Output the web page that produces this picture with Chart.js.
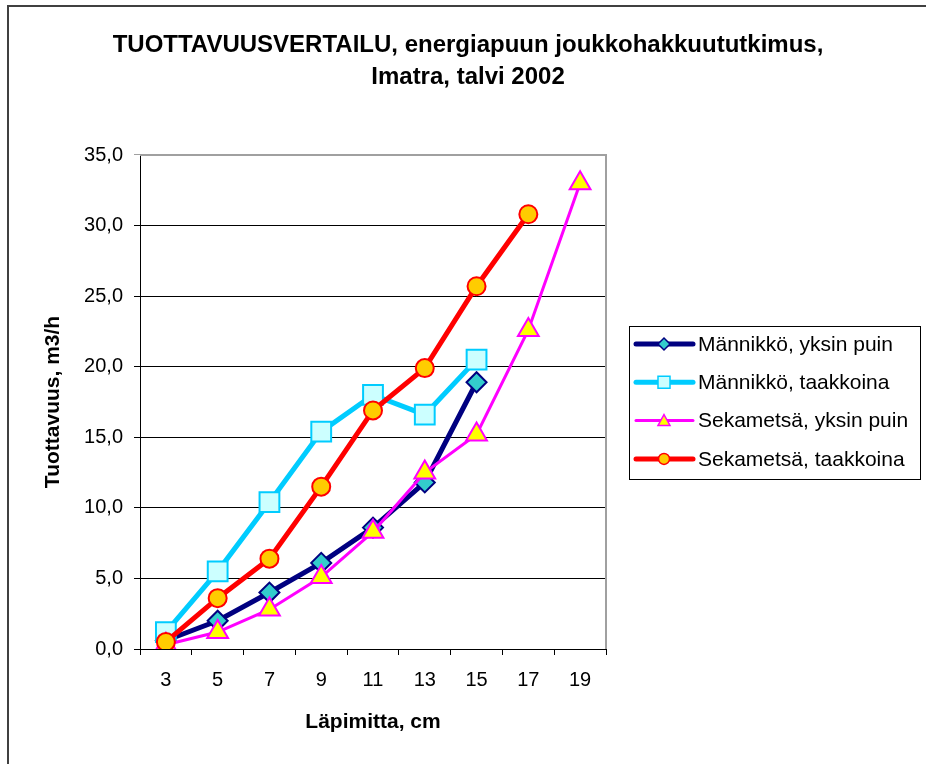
<!DOCTYPE html>
<html><head><meta charset="utf-8">
<script src="https://cdn.jsdelivr.net/npm/chart.js@4/dist/chart.umd.min.js"></script>
<style>html,body{margin:0;padding:0;background:#fff;}canvas{display:block;}</style>
</head><body>
<canvas id="c" width="926" height="764"></canvas>
<script>
const categories = ['3','5','7','9','11','13','15','17','19'];
const seriesNames = ['Männikkö, yksin puin','Männikkö, taakkoina','Sekametsä, yksin puin','Sekametsä, taakkoina'];
const mannikkoYksin = [0.6, 2.0, 4.0, 6.1, 8.6, 11.8, 18.9, null, null];
const mannikkoTaakka = [1.2, 5.5, 10.4, 15.4, 18.0, 16.6, 20.5, null, null];
const sekaYksin = [0.3, 1.2, 2.8, 5.1, 8.3, 12.5, 15.2, 22.6, 33.0];
const sekaTaakka = [0.5, 3.6, 6.4, 11.5, 16.9, 19.9, 25.7, 30.8, null];
const titleLines = ['TUOTTAVUUSVERTAILU, energiapuun joukkohakkuututkimus,','Imatra, talvi 2002'];
const xTitle = 'Läpimitta, cm';
const yTitle = 'Tuottavuus, m3/h';

const FF = '"Liberation Sans", Arial, sans-serif';

const styles = [
  {line:'#000080', width:5, fill:'#33CCCC', border:'#000080', shape:'rectRot', r:10, lr:6},
  {line:'#00CCFF', width:5, fill:'#CCFFFF', border:'#00CCFF', shape:'rect', r:14, lr:6},
  {line:'#FF00FF', width:3, fill:'#FFFF00', border:'#FF00FF', shape:'triangle', r:12, lr:6},
  {line:'#FF0000', width:5, fill:'#FFCC00', border:'#FF0000', shape:'circle', r:9, lr:5.5}
];
const values = [mannikkoYksin, mannikkoTaakka, sekaYksin, sekaTaakka];

const datasets = values.map((v,i)=>({
  label: seriesNames[i],
  data: v,
  borderColor: styles[i].line,
  borderWidth: styles[i].width,
  backgroundColor: styles[i].fill,
  pointStyle: styles[i].shape,
  pointRadius: styles[i].r,
  pointHoverRadius: styles[i].r,
  pointBackgroundColor: styles[i].fill,
  pointBorderColor: styles[i].border,
  pointBorderWidth: 2,
  tension: 0,
  fill: false,
  order: 4 - i
}));

function drawMarker(ctx, shape, x, y, r, fill, stroke){
  ctx.beginPath();
  if(shape==='rectRot'){
    ctx.moveTo(x-r,y);ctx.lineTo(x,y-r);ctx.lineTo(x+r,y);ctx.lineTo(x,y+r);ctx.closePath();
  } else if(shape==='rect'){
    ctx.rect(x-r,y-r,2*r,2*r);
  } else if(shape==='triangle'){
    ctx.moveTo(x,y-r);ctx.lineTo(x+r,y+r*0.8);ctx.lineTo(x-r,y+r*0.8);ctx.closePath();
  } else {
    ctx.arc(x,y,r,0,Math.PI*2);
  }
  ctx.fillStyle=fill;ctx.fill();
  ctx.lineWidth=1.5;ctx.strokeStyle=stroke;ctx.stroke();
}

const decor = {
  id:'decor',
  beforeDraw(chart){
    const ctx = chart.ctx;
    ctx.save();
    ctx.fillStyle='#fff';ctx.fillRect(0,0,chart.width,chart.height);
    ctx.strokeStyle='#404040';ctx.lineWidth=2;
    ctx.strokeRect(8,6,1000,1000);
    ctx.restore();
  },
  beforeDatasetsDraw(chart){
    const ctx = chart.ctx, a = chart.chartArea;
    ctx.save();
    ctx.strokeStyle='#A0A0A0';ctx.lineWidth=2;
    ctx.beginPath();
    ctx.moveTo(a.left, a.top);ctx.lineTo(a.right, a.top);ctx.lineTo(a.right, a.bottom);
    ctx.stroke();
    ctx.restore();
  },
  afterDraw(chart){
    const ctx = chart.ctx;
    ctx.save();
    const bx=629, by=326, bw=291, bh=153;
    ctx.fillStyle='#fff';ctx.fillRect(bx,by,bw,bh);
    ctx.strokeStyle='#000';ctx.lineWidth=1;
    ctx.strokeRect(bx+0.5,by+0.5,bw,bh);
    chart.data.datasets.forEach((ds,i)=>{
      const s = styles[i];
      const y = 344 + i*38.3;
      ctx.strokeStyle=s.line;ctx.lineWidth=s.width;ctx.lineCap='round';
      ctx.beginPath();ctx.moveTo(636,y);ctx.lineTo(693,y);ctx.stroke();
      drawMarker(ctx, s.shape, 664, y, s.lr, s.fill, s.border);
      ctx.fillStyle='#000';ctx.font='21px '+FF;ctx.textBaseline='middle';ctx.textAlign='left';
      ctx.fillText(ds.label, 698, y+1);
    });
    ctx.restore();
  }
};

new Chart(document.getElementById('c'), {
  type:'line',
  data:{labels:categories, datasets},
  plugins:[decor],
  options:{
    responsive:false,
    animation:false,
    events:[],
    layout:{padding:{top:6,left:18,right:8,bottom:0}},
    plugins:{
      legend:{display:false},
      tooltip:{enabled:false},
      title:{display:true, text:titleLines, color:'#000',
        font:{family:FF, size:24, weight:'bold', lineHeight:1.3333},
        padding:{top:23,bottom:62}}
    },
    scales:{
      x:{
        type:'category', offset:true,
        grid:{offset:true, drawOnChartArea:false, drawTicks:true, tickLength:6, color:'#000', lineWidth:1},
        border:{display:true, color:'#000', width:1},
        ticks:{color:'#000', font:{family:FF, size:20}, padding:13, maxRotation:0, autoSkip:false},
        title:{display:true, text:xTitle, color:'#000', font:{family:FF, size:21, weight:'bold'}, padding:{top:0,bottom:29}},
        afterFit(s){ s.height = 115; }
      },
      y:{
        min:0, max:35,
        ticks:{stepSize:5, color:'#000', font:{family:FF, size:20}, padding:11,
          callback:v=>v.toFixed(1).replace('.',',')},
        grid:{color:c=>(c.tick && c.tick.value===35)?'#A0A0A0':'#000', lineWidth:1, tickLength:6, drawTicks:true},
        border:{display:true, color:'#000', width:1},
        title:{display:true, text:yTitle, color:'#000', font:{family:FF, size:21, weight:'bold'}, padding:{top:23,bottom:0}},
        afterFit(s){ s.width = 122; }
      },
      y2:{
        position:'right', display:true, min:0, max:35,
        grid:{display:false, drawTicks:false},
        border:{display:false},
        ticks:{display:false},
        afterFit(s){ s.width = 312; }
      }
    }
  }
});
</script>
</body></html>
